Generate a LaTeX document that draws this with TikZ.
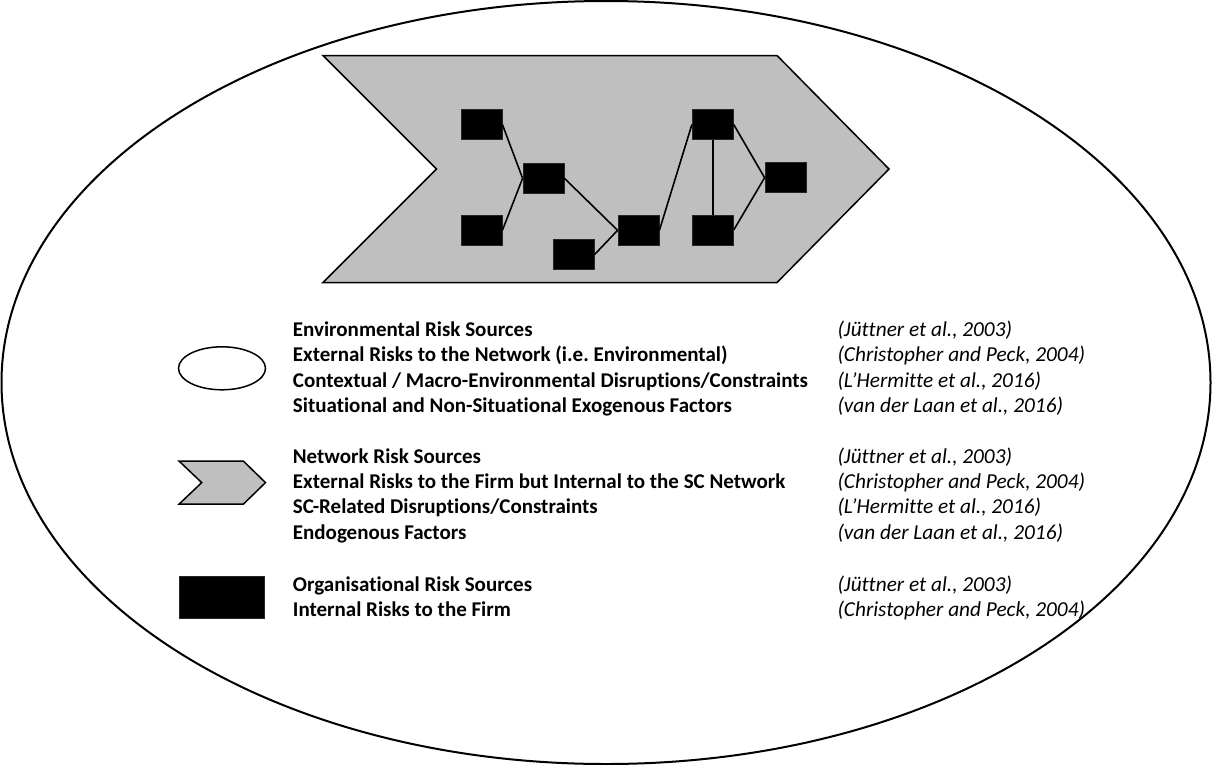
\documentclass[tikz,border=0pt]{standalone}
\usepackage{fontspec}
\setmainfont[Ligatures=NoCommon]{Carlito}
\begin{document}
\begin{tikzpicture}[x=1pt,y=-1pt,
  outline/.style={draw=black,line width=1.5pt,line join=miter},
  org/.style={draw=black!85,fill=black,line width=0.8pt,minimum width=41pt,minimum height=30pt,inner sep=0pt},
  link/.style={draw=black,line width=1.6pt},
  label/.style={anchor=base west,inner sep=0pt,font=\fontsize{21}{25}\selectfont\bfseries},
  cite/.style={anchor=base west,inner sep=0pt,font=\fontsize{21.3}{25}\selectfont\itshape}]
\useasboundingbox (0,0) rectangle (1212,764);

% environment: outer ellipse
\coordinate (env) at (606,382.5);
\draw[line width=2pt] (env) ellipse [x radius=604.5, y radius=381.5];

% supply chain network: chevron
\coordinate (c1) at (323,55.5);
\coordinate (c2) at (777,55.5);
\coordinate (c3) at (889,169);
\coordinate (c4) at (777,282.5);
\coordinate (c5) at (323,282.5);
\coordinate (c6) at (436.5,169);
\draw[outline,fill=black!25] (c1) -- (c2) -- (c3) -- (c4) -- (c5) -- (c6) -- cycle;

% firms inside the network
\node[org] (A) at (481.5,124.5) {};
\node[org] (B) at (543.5,178.3) {};
\node[org] (C) at (481.5,230.3) {};
\node[org] (D) at (573.5,254.7) {};
\node[org] (E) at (638.5,230.3) {};
\node[org] (F) at (712.8,124.5) {};
\node[org] (G) at (712.8,230) {};
\node[org] (H) at (785.5,177.7) {};

\draw[link] (A.east) -- (B.west);
\draw[link] (C.east) -- (B.west);
\draw[link] (B.east) -- (E.west);
\draw[link] (D.east) -- (E.west);
\draw[link] (E.east) -- (F.west);
\draw[link] (F.south) -- (G.north);
\draw[link] (F.east) -- (H.west);
\draw[link] (G.east) -- (H.west);

% legend symbols
\draw[line width=1.5pt,fill=white] (222,368.3) ellipse [x radius=43.5, y radius=21.5];
\coordinate (k1) at (179,461);
\coordinate (k2) at (243.3,461);
\coordinate (k3) at (265.5,482.6);
\coordinate (k4) at (243.3,504.2);
\coordinate (k5) at (179,504.2);
\coordinate (k6) at (201.7,482.6);
\draw[outline,fill=black!25] (k1) -- (k2) -- (k3) -- (k4) -- (k5) -- (k6) -- cycle;
\node[draw=black!85,fill=black,line width=0.8pt,minimum width=85pt,minimum height=42pt,inner sep=0pt] (korg) at (222,597.8) {};

% legend texts
\node[label] (e1) at (292.7,336.7) {Environmental Risk Sources};
\node[label] (e2) at (292.7,361.9) {External Risks to the Network (i.e.\ Environmental)};
\node[label] (e3) at (292.7,387.2) {Contextual / Macro-Environmental Disruptions/Constraints};
\node[label] (e4) at (292.7,412.4) {Situational and Non-Situational Exogenous Factors};
\node[label] (n1) at (292.7,463.3) {Network Risk Sources};
\node[label] (n2) at (292.7,488.5) {External Risks to the Firm but Internal to the SC Network};
\node[label] (n3) at (292.7,513.8) {SC-Related Disruptions/Constraints};
\node[label] (n4) at (292.7,539.0) {Endogenous Factors};
\node[label] (o1) at (292.7,591.7) {Organisational Risk Sources};
\node[label] (o2) at (292.7,616.9) {Internal Risks to the Firm};

\node[cite] (ce1) at (837.3,336.7) {(Jüttner et al., 2003)};
\node[cite] (ce2) at (837.3,361.9) {(Christopher and Peck, 2004)};
\node[cite] (ce3) at (837.3,387.2) {(L’Hermitte et al., 2016)};
\node[cite] (ce4) at (837.3,412.4) {(van der Laan et al., 2016)};
\node[cite] (cn1) at (837.3,463.3) {(Jüttner et al., 2003)};
\node[cite] (cn2) at (837.3,488.5) {(Christopher and Peck, 2004)};
\node[cite] (cn3) at (837.3,513.8) {(L’Hermitte et al., 2016)};
\node[cite] (cn4) at (837.3,539.0) {(van der Laan et al., 2016)};
\node[cite] (co1) at (837.3,591.7) {(Jüttner et al., 2003)};
\node[cite] (co2) at (837.3,616.9) {(Christopher and Peck, 2004)};
\end{tikzpicture}
\end{document}
